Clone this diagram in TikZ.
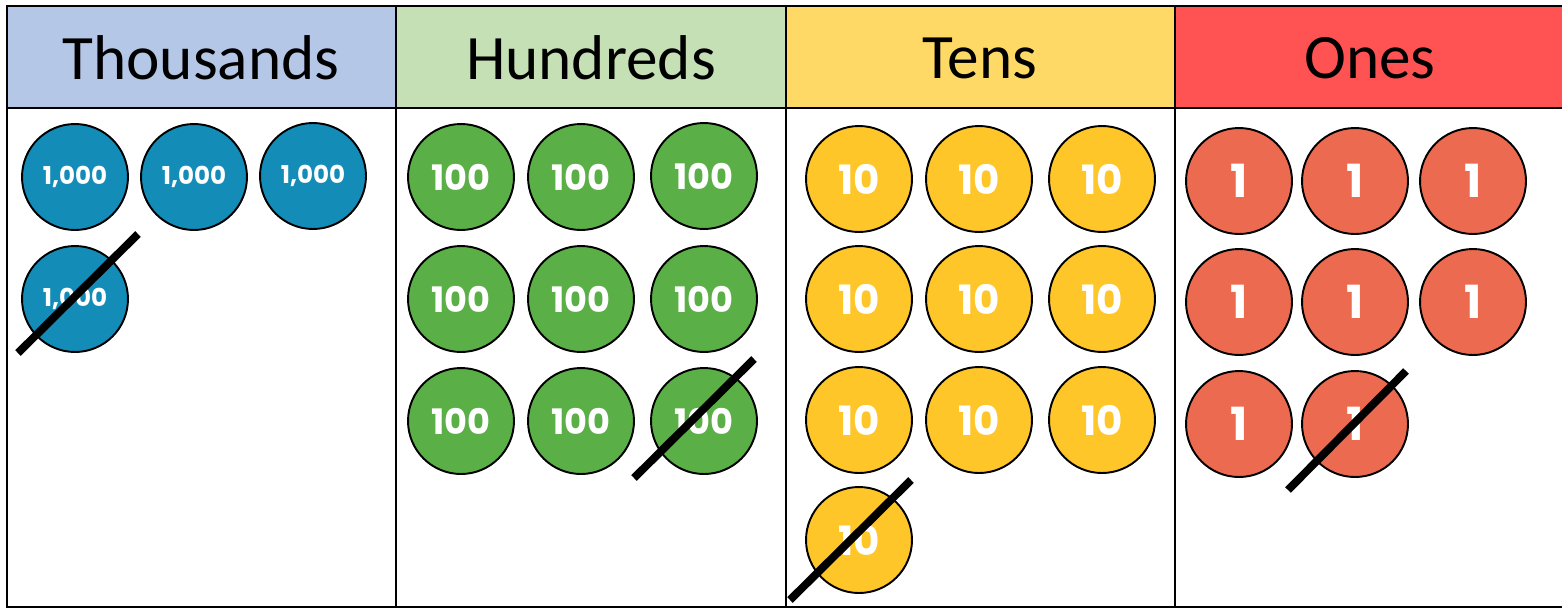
\documentclass[tikz,border=0pt]{standalone}
\usepackage{fontspec}
\setmainfont{Carlito}
\newfontfamily\coinfont{Poppins}
\usetikzlibrary{calc, positioning}

\definecolor{thouhead}{HTML}{B4C7E7}
\definecolor{hundhead}{HTML}{C5E0B4}
\definecolor{tenshead}{HTML}{FFD966}
\definecolor{oneshead}{HTML}{FF5252}
\definecolor{thoucoin}{HTML}{138CB8}
\definecolor{hundcoin}{HTML}{5BAF47}
\definecolor{tenscoin}{HTML}{FFC629}
\definecolor{onescoin}{HTML}{EC6A4F}

\tikzset{
  coin/.style={circle, draw=black, line width=1.1pt, minimum size=2.12cm,
    inner sep=0pt, text=white, font=\coinfont\bfseries},
  headtext/.style={font=\fontsize{36}{44}\selectfont, text=black},
  strike/.style={line width=4.5pt, black},
  grid/.style={line width=1.6pt, black}
}

\begin{document}
\begin{tikzpicture}[x=0.02cm, y=-0.02cm]
\useasboundingbox (0,0) rectangle (1562,609);
\clip (0,0) rectangle (1562,609);

% Header cells
\fill[thouhead] (7,6) rectangle (396,108);
\fill[hundhead] (396,6) rectangle (786,108);
\fill[tenshead] (786,6) rectangle (1175,108);
\fill[oneshead] (1175,6) rectangle (1570,108);

\node[headtext] (hthou) at (201,58) {Thousands};
\node[headtext] (hhund) at (591,58) {Hundreds};
\node[headtext] (htens) at (980,58) {Tens};
\node[headtext] (hones) at (1370,58) {Ones};

% Table lines
\draw[grid] (7,6) rectangle (1570,607);
\draw[grid] (7,108) -- (1570,108);
\draw[grid] (396,6) -- (396,607);
\draw[grid] (786,6) -- (786,607);
\draw[grid] (1175,6) -- (1175,607);

% Thousands counters
\foreach \i/\x/\y in {1/75/177, 2/194/177, 3/313/176, 4/75/299}
  \node[coin, fill=thoucoin, font=\coinfont\bfseries\fontsize{14}{16}\selectfont] (t\i) at (\x,\y) {1,000};

% Hundreds counters
\foreach \i/\x/\y in {1/461/177, 2/581/177, 3/704/176,
                      4/461/299, 5/581/299, 6/704/299,
                      7/461/421, 8/581/421, 9/704/421}
  \node[coin, fill=hundcoin, font=\coinfont\bfseries\fontsize{20}{22}\selectfont] (h\i) at (\x,\y) {100};

% Tens counters
\foreach \i/\x/\y in {1/859/179, 2/979/179, 3/1102/179,
                      4/859/299, 5/979/299, 6/1102/299,
                      7/859/420, 8/979/420, 9/1102/420,
                      10/859/540}
  \node[coin, fill=tenscoin, font=\coinfont\bfseries\fontsize{23}{25}\selectfont] (n\i) at (\x,\y) {10};

% Ones counters
\foreach \i/\x/\y in {1/1239/181, 2/1355/181, 3/1473/181,
                      4/1239/302, 5/1355/302, 6/1473/302,
                      7/1239/424, 8/1355/424}
  \node[coin, fill=onescoin, font=\coinfont\bfseries\fontsize{26}{28}\selectfont] (o\i) at (\x,\y) {1};

% Crossed-out counters
\coordinate (ta) at ($(t4)+(-57,54)$);
\coordinate (tb) at ($(t4)+(63,-65)$);
\draw[strike] (ta) -- (tb);

\coordinate (ha) at ($(h9)+(-70,57)$);
\coordinate (hb) at ($(h9)+(50,-62)$);
\draw[strike] (ha) -- (hb);

\coordinate (na) at ($(n10)+(-69,60)$);
\coordinate (nb) at ($(n10)+(52,-60)$);
\draw[strike] (na) -- (nb);

\coordinate (oa) at ($(o8)+(-67,66)$);
\coordinate (ob) at ($(o8)+(51,-53)$);
\draw[strike] (oa) -- (ob);
\end{tikzpicture}
\end{document}
